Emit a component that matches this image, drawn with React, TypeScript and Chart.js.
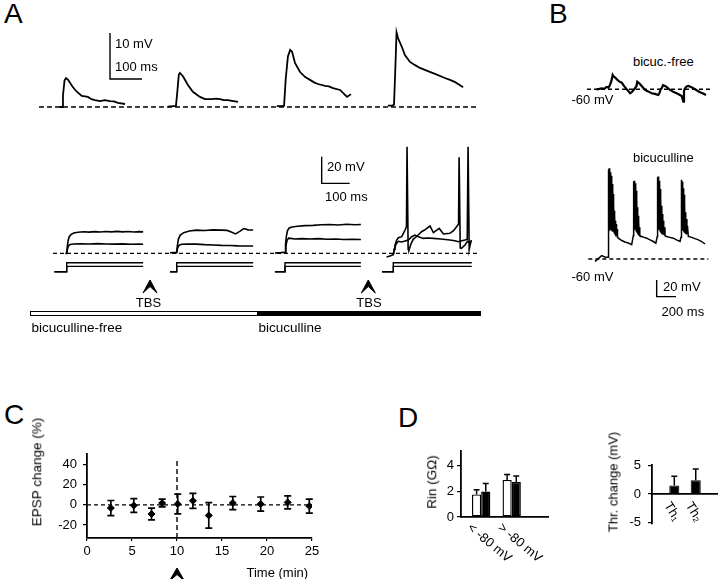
import React, { useEffect, useRef } from "react";
import { Chart, registerables } from "chart.js";

Chart.register(...registerables);

const FONT = '"Liberation Sans", Arial, Helvetica, sans-serif';
Chart.defaults.font.family = FONT;
Chart.defaults.color = "#000";

type Pt = [number, number];

// ---------------- Panel A (top): EPSP sweeps, ms from stimulus / mV above baseline
const epspSweep1: Pt[] = [[-8, 0], [0, 0], [3, 2.5], [8, 5.8], [12.5, 6.3], [19, 5.9], [31, 4.6], [40, 3.8], [47, 3.3], [62, 2.4], [72, 2.3], [81, 2.2], [92, 1.7], [103, 1.5], [119, 1.3], [134, 1.5], [150, 1.3], [162, 1.2], [175, 0.9], [197, 0.65]];
const epspSweep2: Pt[] = [[-25, 0.1], [-10, 0.2], [0, 0.2], [4, 3], [9, 7], [12.5, 7.4], [22, 6.7], [37.5, 4.8], [53, 3.3], [75, 2.2], [91, 1.7], [112, 1.7], [125, 1.8], [137.5, 1.7], [150, 1.5], [162.5, 1.5], [180, 1.3], [194, 1.1]];
const epspSweep3: Pt[] = [[-23, 0.2], [-8, 0.2], [0, 0.3], [5, 6], [12, 11], [19, 12.4], [25, 12], [34, 9.6], [50, 7.6], [66, 6.5], [81, 5.9], [95, 5.3], [106, 5.0], [128, 4.6], [140, 4.5], [153, 4.1], [175, 3.7], [185, 3.0], [191, 2.6], [197, 2.2], [209, 2.8]];
const epspSweep4: Pt[] = [[-19, 0.3], [-5, 0.3], [0, 0.5], [4, 8], [8, 16.2], [12.5, 15], [25, 13], [34, 11.3], [50, 9.8], [66, 9.1], [81, 8.5], [106, 7.8], [128, 7.2], [159, 6.3], [175, 5.9], [191, 5.4], [205, 4.8], [216, 4.3]];

// ---------------- Panel A (bottom): responses to current steps, ms from step onset / mV above rest
const stepS1Hi: Pt[] = [[-5, 0], [0, 0], [2, 5], [5, 9.5], [9, 12.5], [15, 14], [25, 15.2], [40, 15.8], [60, 16.2], [80, 15.9], [100, 16.3], [120, 16], [140, 16.4], [160, 16.1], [180, 16.5], [200, 16.1], [220, 16.4], [240, 16], [260, 16.3], [273, 16.1]];
const stepS1Lo: Pt[] = [[0, 0], [3, 3.5], [7, 5.8], [12, 6.6], [25, 7], [50, 7.2], [80, 7.0], [110, 7.3], [140, 7.0], [170, 6.9], [200, 7.1], [230, 6.8], [260, 6.9], [273, 6.8]];
const stepS2Hi: Pt[] = [[-24, 0.4], [-8, 0.6], [0, 0.5], [2, 5], [6, 10.5], [12, 13.5], [25, 15.5], [45, 16.8], [70, 17.4], [100, 17.1], [130, 17.6], [160, 17.4], [180, 17.2], [195, 16], [210, 14.6], [225, 16.5], [240, 18.6], [255, 17.6], [273, 17.5]];
const stepS2Lo: Pt[] = [[0, 0.5], [3, 3.8], [8, 6], [18, 6.8], [40, 7], [70, 6.9], [100, 6.5], [130, 6.3], [160, 6], [190, 5.9], [220, 5.6], [250, 5.5], [273, 5.5]];
const stepS3Hi: Pt[] = [[-36, 0.3], [-15, 0.5], [-5, 0.8], [0, 0.5], [2, 7], [5, 13], [9, 17], [15, 19], [25, 19.8], [45, 20.3], [70, 20.8], [100, 21], [130, 21.4], [160, 21.6], [190, 21.3], [220, 21.8], [250, 21.4], [271, 21.6]];
const stepS3Lo: Pt[] = [[0, 0.5], [3, 5], [7, 9.5], [13, 11.4], [20, 11.2], [35, 10.8], [60, 11], [90, 10.7], [120, 11], [150, 10.6], [180, 10.7], [210, 10.4], [240, 10.5], [271, 10.4]];
const stepS4Hi: Pt[] = [[-24, -2.8], [-12, -2], [0, -1], [3, 3], [6, 6.2], [12, 10], [18, 11.7], [30, 12.5], [42, 17.5], [47, 20], [49, 80], [51, 80], [53, 3], [56, 2.5], [63, 7], [71, 10.5], [85, 13], [101, 16.2], [115, 18], [131, 20.5], [143, 15.5], [164, 18.7], [179, 14.5], [202, 15], [215, 17], [228, 20.5], [233, 22], [235, 72], [237, 72], [239, 4], [243, 3.7], [250, 5], [256, 6.2], [265, 9], [272, 8], [276, 9]];
const stepS4Lo: Pt[] = [[0, -1], [5, 4], [10, 7], [18, 9], [30, 8.5], [45, 9.5], [54, 10], [66, 12.5], [77, 13.7], [90, 12.5], [107, 11.2], [125, 11.5], [143, 11.2], [170, 10.8], [202, 10], [220, 9.5], [232, 8.7], [245, 9.5], [256, 10], [264, 10.5], [267, 80], [269, 80], [271, 3], [274, 6], [279, 10]];
const stepCommandLevels = [0.6, 1.0];
const stepWindows: Pt[] = [[-44, 273], [-24, 273], [-36, 271], [-40, 280]];

// ---------------- Panel B: spontaneous activity, ms / absolute mV
const bicFreeTrace: Pt[] = [[17, -60], [45, -59.5], [69, -58.8], [95, -59.5], [121, -57.2], [140, -58], [155, -54.8], [170, -50], [183, -42.8], [195, -45], [210, -46], [225, -48], [250, -50.5], [277, -52], [300, -56], [328, -60], [345, -62], [363, -64.8], [385, -63], [414, -58.8], [430, -56], [438, -50.9], [450, -52], [466, -53.6], [490, -57], [518, -60.8], [550, -62.5], [587, -64.8], [620, -65.5], [656, -66.8], [670, -64], [680, -60], [691, -58.8], [705, -55], [725, -56], [750, -58], [777, -60.8], [810, -63], [846, -64.8], [875, -66.5], [898, -68], [908, -72], [915, -74.9], [922, -62], [932, -58.8], [950, -56.5], [967, -56], [1000, -57.5], [1036, -60], [1065, -62], [1088, -63.6], [1120, -65], [1150, -66.8]];
const bicTrace: Pt[] = [[0, -62.9], [20, -61], [40, -59], [69, -56], [90, -57], [104, -57.6], [125, -58], [136, -58],
  [138, -35], [140, 47], [143, -28], [146, 49], [149, -26], [152, 46], [155, -25], [158, 44], [161, -24], [164, 42], [167, -24], [170, 40], [173, -25], [176, 36], [179, -26], [182, 30], [185, -26], [188, 18], [191, -27], [194, 8], [197, -28], [200, -2], [203, -29], [206, -8], [209, -30], [212, -14], [215, -31], [219, -18], [223, -32], [228, -24], [233, -33], [241, -35],
  [260, -36.5], [277, -37.8], [310, -39.5], [345, -40.8], [380, -42.8],
  [397, -32], [399, 33], [402, -26], [405, 34], [408, -25], [411, 33], [414, -24], [417, 31], [420, -25], [423, 28], [426, -26], [429, 22], [432, -27], [435, 12], [438, -28], [441, 2], [444, -29], [447, -8], [450, -30], [454, -15], [458, -31], [462, -22], [466, -32],
  [484, -33], [510, -34], [535, -35], [570, -37], [604, -39], [630, -41],
  [645, -33], [647, 38], [650, -26], [653, 39], [656, -25], [659, 37], [662, -24], [665, 34], [668, -25], [671, 30], [674, -26], [677, 24], [680, -27], [683, 14], [686, -28], [690, 4], [694, -29], [698, -6], [702, -30], [707, -14], [712, -31], [718, -22], [725, -32],
  [742, -33], [775, -34], [811, -35], [845, -37], [881, -39],
  [891, -34], [893, 34], [896, -26], [899, 35], [902, -25], [905, 33], [908, -24], [911, 30], [914, -25], [917, 25], [920, -26], [923, 17], [926, -27], [930, 6], [934, -28], [938, -4], [942, -29], [947, -12], [952, -30], [958, -20], [967, -33],
  [1002, -34], [1035, -35.5], [1071, -37], [1105, -39], [1140, -42]];
const restPotential = -60;

// ---------------- Panel C: EPSP change over time
const timeMin = [2.65, 5.2, 7.17, 8.35, 10.08, 11.77, 13.53, 16.2, 19.3, 22.3, 24.7];
const epspChange = [-3.1, -0.6, -9, 1.9, 0.9, 4.1, -10.5, 1.9, 0.9, 2.5, -1.2];
const epspSem = [7.5, 6.8, 5.9, 3.9, 9.8, 7.5, 12.7, 6.5, 7, 6.5, 7];
const epspTicks = [-20, 0, 20, 40];
const tbsTimeMin = 10;

// ---------------- Panel D
const rinGroups = ["< -80 mV", "> -80 mV"];
const rinBefore = [1.75, 2.87];
const rinBeforeErr = [0.37, 0.43];
const rinAfter = [1.97, 2.72];
const rinAfterErr = [0.63, 0.45];
const rinTicks = [0, 1, 2, 3, 4, 5];
const rinTickLabels = [0, 2, 4];
const thrLabels = ["Th\u2081", "Th\u2082"];
const thrChange = [1.5, 2.4];
const thrErr = [1.6, 2.0];
const thrTicks = [-5, 0, 5];

// ================= layout (chart-unit placements) =================
const a1Onsets = [100, 456, 794, 1137.5];
const a2Onsets = [95.4, 488.2, 875, 1261.8];
const a2TbsTimes = [392.9, 1172.5];

const pts = (arr: Pt[], dx = 0) => arr.map(([x, y]) => ({ x: x + dx, y }));

function line(data: { x: number; y: number }[], extra: any = {}) {
  return { type: "line", data, borderColor: "#000", borderWidth: 1.5, pointRadius: 0, tension: 0, fill: false, ...extra };
}

const baseOpts = {
  responsive: false,
  maintainAspectRatio: false,
  animation: false,
  events: [],
  plugins: { legend: { display: false }, tooltip: { enabled: false }, title: { display: false } },
};

function hiddenScales(xMin: number, xMax: number, yMin: number, yMax: number) {
  return {
    x: { type: "linear", display: false, min: xMin, max: xMax },
    y: { type: "linear", display: false, min: yMin, max: yMax },
  };
}

const errorBarPlugin = {
  id: "errorBars",
  afterDatasetsDraw(chart: any) {
    const ctx = chart.ctx;
    const ys = chart.scales.y;
    chart.data.datasets.forEach((ds: any, i: number) => {
      if (!ds.errors) return;
      const meta = chart.getDatasetMeta(i);
      meta.data.forEach((el: any, j: number) => {
        const v = ds.data[j].y;
        const e = ds.errors[j];
        const x = el.x;
        const yTop = ys.getPixelForValue(v + e);
        const yBot = ds.errMode === "up" ? ys.getPixelForValue(v) : ys.getPixelForValue(v - e);
        const cw = ds.capWidth ?? 3;
        ctx.save();
        ctx.strokeStyle = "#000";
        ctx.lineWidth = ds.errWidth ?? 1.5;
        ctx.beginPath();
        ctx.moveTo(x, yTop);
        ctx.lineTo(x, yBot);
        ctx.moveTo(x - cw, yTop);
        ctx.lineTo(x + cw, yTop);
        if (ds.errMode !== "up") {
          ctx.moveTo(x - cw, yBot);
          ctx.lineTo(x + cw, yBot);
        }
        ctx.stroke();
        ctx.restore();
      });
    });
  },
};

function chevron(ctx: any, x: number, yTip: number, h: number, w: number) {
  ctx.save();
  ctx.fillStyle = "#000";
  ctx.strokeStyle = "#000";
  ctx.lineWidth = 1;
  ctx.lineJoin = "miter";
  ctx.beginPath();
  ctx.moveTo(x, yTip);
  ctx.lineTo(x + w, yTip + h);
  ctx.lineTo(x, yTip + h * 0.5);
  ctx.lineTo(x - w, yTip + h);
  ctx.closePath();
  ctx.fill();
  ctx.stroke();
  ctx.restore();
}

function slantLabels(labels: string[], angle: number, dx: number, dy: number, atZero: boolean, size: number) {
  return {
    id: "slantLabels",
    afterDraw(chart: any) {
      const ctx = chart.ctx;
      const xs = chart.scales.x;
      const ys = chart.scales.y;
      const baseY = atZero ? ys.getPixelForValue(0) : chart.chartArea.bottom;
      ctx.save();
      ctx.fillStyle = "#000";
      ctx.font = `${size}px ${FONT}`;
      ctx.textAlign = "left";
      ctx.textBaseline = "top";
      labels.forEach((lab, i) => {
        const x = xs.getPixelForValue(i + 1);
        ctx.save();
        ctx.translate(x + dx, baseY + dy);
        ctx.rotate((angle * Math.PI) / 180);
        ctx.fillText(lab, 0, 0);
        ctx.restore();
      });
      ctx.restore();
    },
  };
}

// ---------------- chart configs ----------------
function cfgA1() {
  const sweeps = [epspSweep1, epspSweep2, epspSweep3, epspSweep4];
  return {
    type: "line",
    data: {
      datasets: [
        line([{ x: 28, y: 0 }, { x: 1394, y: 0 }], { borderDash: [5, 3], borderWidth: 1.4 }),
        ...sweeps.map((s, i) => line(pts(s, a1Onsets[i]), { borderWidth: 1.8 })),
        line([{ x: 250, y: 16.09 }, { x: 250, y: 6.09 }, { x: 350, y: 6.09 }], { borderWidth: 1.4 }),
      ],
    },
    options: { ...baseOpts, layout: { padding: 0 }, scales: hiddenScales(0, 1406.25, -1.74, 17.83) },
  };
}

function cfgA2() {
  const hi = [stepS1Hi, stepS2Hi, stepS3Hi, stepS4Hi];
  const lo = [stepS1Lo, stepS2Lo, stepS3Lo, stepS4Lo];
  const ds: any[] = [line([{ x: 46.4, y: 0 }, { x: 1564, y: 0 }], { borderDash: [4, 3], borderWidth: 1.4 })];
  a2Onsets.forEach((on, i) => {
    ds.push(line(pts(hi[i], on), { borderWidth: 1.6 }));
    ds.push(line(pts(lo[i], on), { borderWidth: 1.6 }));
    stepCommandLevels.forEach((lev) => {
      ds.push(
        line(
          [
            { x: on + stepWindows[i][0], y: 0 },
            { x: on, y: 0 },
            { x: on, y: lev },
            { x: on + stepWindows[i][1], y: lev },
          ],
          { yAxisID: "y2", borderWidth: 1.4 }
        )
      );
    });
  });
  ds.push(line([{ x: 1006, y: 72.5 }, { x: 1006, y: 52.5 }, { x: 1106, y: 52.5 }], { borderWidth: 1.4 }));
  return {
    type: "line",
    data: { datasets: ds },
    options: {
      ...baseOpts,
      layout: { padding: 0 },
      scales: {
        ...hiddenScales(0, 1571.4, -35, 85),
        y2: { type: "linear", display: false, min: -3.14, max: 14.63 },
      },
    },
    plugins: [
      {
        id: "tbs",
        afterDraw(chart: any) {
          const xs = chart.scales.x;
          const ys = chart.scales.y;
          a2TbsTimes.forEach((t) => {
            const yTip = ys.getPixelForValue(-20);
            chevron(chart.ctx, xs.getPixelForValue(t), yTip, 13, 7);
          });
        },
      },
    ],
  };
}

function cfgB1() {
  return {
    type: "line",
    data: {
      datasets: [
        line([{ x: -83, y: restPotential }, { x: 1222, y: restPotential }], { borderDash: [4, 3], borderWidth: 1.4 }),
        line(pts(bicFreeTrace), { borderWidth: 2.2 }),
      ],
    },
    options: { ...baseOpts, layout: { padding: 0 }, scales: hiddenScales(-155.4, 1243.2, -84.85, -24.83) },
  };
}

function cfgB2() {
  return {
    type: "line",
    data: {
      datasets: [
        line([{ x: -69, y: restPotential }, { x: 1174, y: restPotential }], { borderDash: [4, 3], borderWidth: 1.4 }),
        line(pts(bicTrace), { borderWidth: 1.5 }),
        line([{ x: 639, y: -85.2 }, { x: 639, y: -105.2 }, { x: 839, y: -105.2 }], { borderWidth: 1.4 }),
      ],
    },
    options: { ...baseOpts, layout: { padding: 0 }, scales: hiddenScales(-155.4, 1243.2, -109.2, 70.85) },
  };
}

function cfgC() {
  return {
    type: "line",
    data: {
      datasets: [
        line([{ x: 0, y: 0 }, { x: 25, y: 0 }], { borderDash: [4, 3], borderWidth: 1.4 }),
        line([{ x: tbsTimeMin, y: -33 }, { x: tbsTimeMin, y: 43.7 }], { borderDash: [5, 3], borderWidth: 1.4 }),
        {
          type: "line",
          showLine: false,
          data: timeMin.map((t, i) => ({ x: t, y: epspChange[i] })),
          pointStyle: "rectRot",
          pointRadius: 3.5,
          pointBackgroundColor: "#000",
          pointBorderColor: "#000",
          errors: epspSem,
          capWidth: 3.5,
          errWidth: 1.7,
        },
      ],
    },
    options: {
      ...baseOpts,
      layout: { padding: { left: 0, right: 15, top: 8, bottom: 0 } },
      scales: {
        x: {
          type: "linear",
          min: 0,
          max: 25,
          afterFit: (s: any) => { s.height = 41; },
          ticks: { stepSize: 5, font: { size: 13 }, padding: 3, color: "#000" },
          grid: { display: true, drawOnChartArea: false, drawTicks: true, tickLength: 3, color: "#000", lineWidth: 1.2 },
          border: { display: true, color: "#000", width: 1.8 },
        },
        y: {
          type: "linear",
          min: -33,
          max: 51,
          afterFit: (s: any) => { s.width = 60; },
          afterBuildTicks: (s: any) => { s.ticks = epspTicks.map((v) => ({ value: v })); },
          ticks: { font: { size: 13 }, padding: 6, color: "#000" },
          grid: { display: true, drawOnChartArea: false, drawTicks: true, tickLength: 4, color: "#000", lineWidth: 1.2 },
          border: { display: true, color: "#000", width: 1.8 },
        },
      },
    },
    plugins: [
      errorBarPlugin,
      {
        id: "tbsC",
        afterDraw(chart: any) {
          const x = chart.scales.x.getPixelForValue(tbsTimeMin);
          chevron(chart.ctx, x, chart.height - 11, 13, 7.5);
        },
      },
    ],
  };
}

function cfgD1() {
  return {
    type: "bar",
    data: {
      datasets: [
        {
          data: rinBefore.map((v, i) => ({ x: i + 1, y: v })),
          backgroundColor: "#fff",
          borderColor: "#000",
          borderWidth: 1.4,
          borderSkipped: false,
          errors: rinBeforeErr,
          errMode: "up",
          capWidth: 3,
          errWidth: 1.5,
        },
        {
          data: rinAfter.map((v, i) => ({ x: i + 1, y: v })),
          backgroundColor: "#000",
          borderColor: "#000",
          borderWidth: 1.4,
          borderSkipped: false,
          errors: rinAfterErr,
          errMode: "up",
          capWidth: 3,
          errWidth: 1.5,
        },
      ],
    },
    options: {
      ...baseOpts,
      categoryPercentage: 0.6,
      barPercentage: 1,
      layout: { padding: { left: 0, right: 8, top: 9, bottom: 0 } },
      scales: {
        x: {
          type: "linear",
          offset: false,
          min: 0.339,
          max: 3.19,
          afterFit: (s: any) => { s.height = 62; },
          afterBuildTicks: (s: any) => { s.ticks = rinGroups.map((_, i) => ({ value: i + 1 })); },
          ticks: { display: false },
          grid: { display: false, offset: false },
          border: { display: true, color: "#000", width: 1.8 },
        },
        y: {
          type: "linear",
          min: 0,
          max: 5.13,
          afterFit: (s: any) => { s.width = 50; },
          afterBuildTicks: (s: any) => { s.ticks = rinTicks.map((v) => ({ value: v })); },
          ticks: {
            font: { size: 13 },
            padding: 3,
            color: "#000",
            callback: (v: any) => (rinTickLabels.includes(Number(v)) ? String(v) : ""),
          },
          grid: { display: true, drawOnChartArea: false, drawTicks: true, tickLength: 4, color: "#000", lineWidth: 1.2 },
          border: { display: true, color: "#000", width: 1.8 },
        },
      },
    },
    plugins: [errorBarPlugin, slantLabels(rinGroups, 40, -8, 4, false, 13)],
  };
}

function cfgD2() {
  return {
    type: "bar",
    data: {
      datasets: [
        {
          data: thrChange.map((v, i) => ({ x: i + 1, y: v })),
          backgroundColor: "#000",
          borderColor: "#000",
          borderWidth: 1,
          errors: thrErr,
          errMode: "up",
          capWidth: 3,
          errWidth: 1.5,
        },
      ],
    },
    options: {
      ...baseOpts,
      categoryPercentage: 0.47,
      barPercentage: 1,
      layout: { padding: { left: 0, right: 2, top: 25, bottom: 55 } },
      scales: {
        x: {
          type: "linear",
          display: false,
          offset: false,
          min: -0.042,
          max: 3.04,
          afterBuildTicks: (s: any) => { s.ticks = thrLabels.map((_, i) => ({ value: i + 1 })); },
          grid: { display: false, offset: false },
        },
        y: {
          type: "linear",
          min: -5.3,
          max: 5.1,
          afterFit: (s: any) => { s.width = 52; },
          afterBuildTicks: (s: any) => { s.ticks = thrTicks.map((v) => ({ value: v })); },
          ticks: { font: { size: 13 }, padding: 7, color: "#000" },
          grid: { display: true, drawOnChartArea: false, drawTicks: true, tickLength: 4, color: "#000", lineWidth: 1.2 },
          border: { display: true, color: "#000", width: 1.8 },
        },
      },
    },
    plugins: [
      {
        id: "zeroLine",
        beforeDatasetsDraw(chart: any) {
          const ctx = chart.ctx;
          const y = chart.scales.y.getPixelForValue(0);
          ctx.save();
          ctx.strokeStyle = "#000";
          ctx.lineWidth = 1.8;
          ctx.beginPath();
          ctx.moveTo(chart.chartArea.left, y);
          ctx.lineTo(chart.chartArea.right, y);
          ctx.stroke();
          ctx.restore();
        },
      },
      errorBarPlugin,
      slantLabels(thrLabels, 58, -2, 6, true, 13),
    ],
  };
}

// ---------------- components ----------------
function ChartCanvas({ left, top, width, height, make }: { left: number; top: number; width: number; height: number; make: () => any }) {
  const ref = useRef<HTMLCanvasElement>(null);
  useEffect(() => {
    const chart = new Chart(ref.current as HTMLCanvasElement, make() as any);
    return () => chart.destroy();
  }, []);
  return (
    <canvas
      ref={ref}
      width={width}
      height={height}
      style={{ position: "absolute", left, top, width, height, display: "block" }}
    />
  );
}

function T({ x, cy, size = 13, center = false, children }: { x: number; cy: number; size?: number; center?: boolean; children: React.ReactNode }) {
  return (
    <div
      style={{
        position: "absolute",
        left: x,
        top: cy - size / 2,
        fontSize: size,
        lineHeight: `${size}px`,
        whiteSpace: "nowrap",
        transform: center ? "translateX(-50%)" : undefined,
        color: "#000",
      }}
    >
      {children}
    </div>
  );
}

function VT({ cx, cy, size = 13, children }: { cx: number; cy: number; size?: number; children: React.ReactNode }) {
  return (
    <div
      style={{
        position: "absolute",
        left: cx,
        top: cy,
        fontSize: size,
        lineHeight: `${size}px`,
        whiteSpace: "nowrap",
        transform: "translate(-50%, -50%) rotate(-90deg)",
        color: "#000",
      }}
    >
      {children}
    </div>
  );
}

export default function App() {
  return (
    <div
      style={{
        position: "fixed",
        left: 0,
        top: 0,
        width: 720,
        height: 579,
        background: "#fff",
        overflow: "hidden",
        fontFamily: FONT,
      }}
    >
      {/* Panel A */}
      <T x={4} cy={14} size={28}>A</T>
      <ChartCanvas left={30} top={25} width={450} height={90} make={cfgA1} />
      <T x={115} cy={43.5}>10 mV</T>
      <T x={115} cy={66}>100 ms</T>
      <ChartCanvas left={40} top={140} width={440} height={160} make={cfgA2} />
      <T x={327} cy={166}>20 mV</T>
      <T x={325} cy={196}>100 ms</T>
      <T x={148.5} cy={302} center>TBS</T>
      <T x={369} cy={302} center>TBS</T>
      <div style={{ position: "absolute", left: 30, top: 311, width: 228, height: 4.5, border: "1px solid #000", boxSizing: "border-box", background: "#fff" }} />
      <div style={{ position: "absolute", left: 258, top: 311, width: 223, height: 4.5, background: "#000" }} />
      <T x={31.5} cy={327.5} size={13.5}>bicuculline-free</T>
      <T x={258.5} cy={327.5} size={13.5}>bicuculline</T>

      {/* Panel B */}
      <T x={549} cy={14} size={28}>B</T>
      <T x={633} cy={61}>bicuc.-free</T>
      <ChartCanvas left={580} top={60} width={135} height={50} make={cfgB1} />
      <T x={571.5} cy={99}>-60 mV</T>
      <T x={633} cy={157.5}>bicuculline</T>
      <ChartCanvas left={580} top={150} width={135} height={150} make={cfgB2} />
      <T x={571.5} cy={276}>-60 mV</T>
      <T x={663} cy={286}>20 mV</T>
      <T x={661.5} cy={311}>200 ms</T>

      {/* Panel C */}
      <T x={4} cy={415} size={28}>C</T>
      <ChartCanvas left={27} top={440} width={300} height={139} make={cfgC} />
      <VT cx={37} cy={472} size={13.5}>EPSP change (%)</VT>
      <T x={246.5} cy={572}>Time (min)</T>

      {/* Panel D */}
      <T x={398} cy={418} size={28}>D</T>
      <ChartCanvas left={411} top={440} width={145} height={139} make={cfgD1} />
      <VT cx={432} cy={481.5} size={13.5}>Rin (G&#937;)</VT>
      <ChartCanvas left={600} top={440} width={120} height={139} make={cfgD2} />
      <VT cx={613} cy={481.5} size={13}>Thr. change (mV)</VT>
    </div>
  );
}
